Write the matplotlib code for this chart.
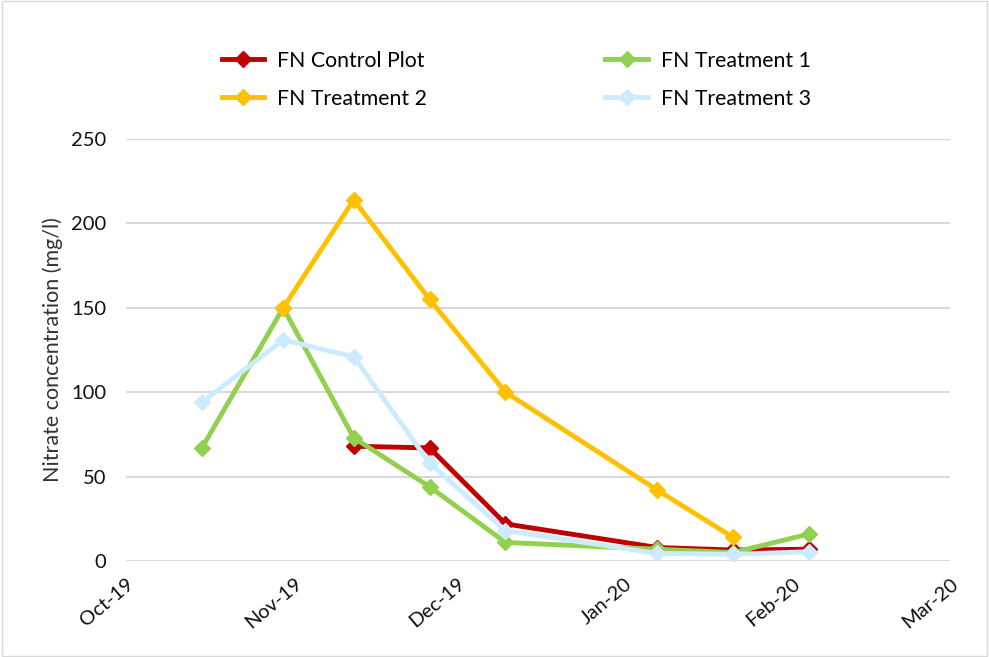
import matplotlib.pyplot as plt
import matplotlib.dates as mdates
import numpy as np
import pandas as pd

# sampling dates
dates = pd.to_datetime(['2019-10-15', '2019-10-30', '2019-11-12', '2019-11-26',
                        '2019-12-10', '2020-01-07', '2020-01-21', '2020-02-04'])
nan = np.nan
control = [nan, nan, 68, 67, 22, 8, 6.5, 7]
treat1 = [67, 150, 73, 44, 11, 7, 5, 16]
treat2 = [nan, 150, 214, 155, 100, 42, 14, nan]
treat3 = [94, 131, 121, 58, 18, 4.5, 4, 5.5]

labels = ['FN Control Plot', 'FN Treatment 1', 'FN Treatment 2', 'FN Treatment 3']
colors = ['#C00000', '#92D050', '#FFC000', '#CCEBFF']
yticks = [0, 50, 100, 150, 200, 250]

plt.rcParams['font.family'] = ['Lato', 'DejaVu Sans']

fig = plt.figure(figsize=(9.89, 6.57), dpi=100)
ax = fig.add_axes([0.1274, 0.1461, 0.8332, 0.6423])

lines = []
for vals, lab, col in zip([control, treat1, treat2, treat3], labels, colors):
    v = np.array(vals, dtype=float)
    m = ~np.isnan(v)
    ln, = ax.plot(dates[m], v[m], color=col, lw=3.5, marker='D', ms=8,
                  label=lab, solid_joinstyle='miter')
    lines.append(ln)

ax.set_xlim(pd.Timestamp('2019-10-01'), pd.Timestamp('2020-03-01'))
ax.set_ylim(0, 250)
ax.set_yticks(yticks)
ax.xaxis.set_major_locator(mdates.MonthLocator())
ax.xaxis.set_major_formatter(mdates.DateFormatter('%b-%y'))
ax.grid(axis='y', color='#D9D9D9', lw=1.5)
ax.set_axisbelow(True)
for s in ax.spines.values():
    s.set_visible(False)
ax.tick_params(length=0, labelsize=14.5, colors='#111111')
ax.tick_params(axis='y', pad=14)
ax.tick_params(axis='x', pad=10)
plt.setp(ax.get_xticklabels(), rotation=40, ha='right', rotation_mode='anchor')
ax.set_ylabel('Nitrate concentration (mg/l)', fontsize=15.5, color='#333333', labelpad=6)

order = [0, 2, 1, 3]
fig.legend([lines[i] for i in order], [labels[i] for i in order], ncol=2,
           loc='upper left', bbox_to_anchor=(0.205, 0.952), frameon=False,
           fontsize=15.3, handlelength=2.0, columnspacing=8.4, handletextpad=0.6,
           labelspacing=0.85)

fig.patches.append(plt.Rectangle((0.002, 0.002), 0.996, 0.996, transform=fig.transFigure,
                                 fill=False, edgecolor='#D9D9D9', lw=1))
fig.savefig('out.png', dpi=100)
